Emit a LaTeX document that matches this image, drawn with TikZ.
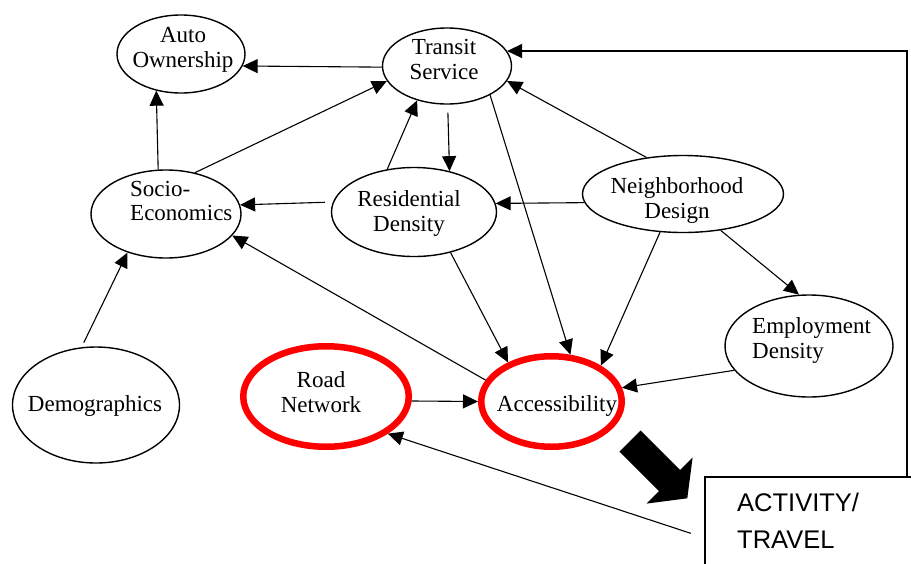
\documentclass[tikz,border=0pt]{standalone}
\usepackage{fontspec}
\setmainfont{Liberation Serif}
\newfontfamily\boxfont{Liberation Sans}
\usetikzlibrary{shapes.geometric,arrows.meta}

\begin{document}
\begin{tikzpicture}[x=1pt,y=-1pt,
  oval/.style={ellipse,draw,line width=1.4pt,inner sep=0pt,outer sep=0.7pt},
  hot/.style={ellipse,draw=red,line width=6.5pt,inner sep=0pt,outer sep=3.25pt},
  lbl/.style={inner sep=0pt,font=\fontsize{23}{25}\selectfont,align=center},
  link/.style={line width=1.1pt,-{Triangle[length=15pt,width=14pt]}},
]
\clip (0,0) rectangle (911,563);
\fill[white] (0,0) rectangle (911,563);

% factor ellipses
\node[oval,minimum width=128pt,minimum height=78pt]  (ao) at (181,54) {};
\node[oval,minimum width=129pt,minimum height=76pt]  (ts) at (447,66) {};
\node[oval,minimum width=150pt,minimum height=88pt]  (se) at (166,214) {};
\node[oval,minimum width=165pt,minimum height=89pt]  (rd) at (414,212) {};
\node[oval,minimum width=201pt,minimum height=77pt]  (nd) at (683,194) {};
\node[oval,minimum width=168pt,minimum height=102pt] (ed) at (809,346) {};
\node[oval,minimum width=167pt,minimum height=116pt] (dg) at (96,405) {};
\node[hot,minimum width=165.5pt,minimum height=100.5pt] (rn) at (326,396.5) {};
\node[hot,minimum width=140.5pt,minimum height=90.5pt]  (ac) at (551.5,401.5) {};

% factor names
\node[lbl] (ao-t) at (183,50.3) {Auto\\Ownership};
\node[lbl] (ts-t) at (444,59) {Transit\\Service};
\node[lbl,font=\fontsize{23}{24}\selectfont,align=left,anchor=west] (se-t) at (130,201) {Socio-\\Economics};
\node[lbl] (rd-t) at (409,213.8) {Residential\\Density};
\node[lbl] (nd-t) at (677,200) {Neighborhood\\Design};
\node[lbl,align=left,anchor=west] (ed-t) at (752,340) {Employment\\Density};
\node[lbl] (rn-t) at (321,391.8) {Road\\Network};
\node[lbl] (ac-t) at (557,406.3) {Accessibility};
\node[lbl] (dg-t) at (95,406.3) {Demographics};

% outcome box, running off the lower right corner
\node[draw,line width=1.5pt,rectangle,minimum width=230pt,minimum height=110pt,
      inner sep=0pt,outer sep=0pt,anchor=north west] (at) at (705,477) {};
\node[anchor=west,inner sep=0pt,align=left,
      font=\boxfont\fontsize{25.5}{36.5}\selectfont] (at-t) at (737,520.8) {ACTIVITY/\\TRAVEL};

% influences
\draw[link] (ts.181) -- (ao.-11);
\draw[link] (se.100) -- (ao.236);
\draw[link] (se.55) -- (ts.194);
\draw[link,shorten <=8pt] (rd.173.6) -- (se.7.7);
\draw[link] (rd.122) -- (ts.229.5);
\draw[link,shorten <=8pt] (ts.271) -- (rd.49.6);
\draw[link] (nd.185) -- (rd.6.4);
\draw[link] (nd.135) -- (ts.-14.7);
\draw[link] (ts.-34) -- (ac.68.8);
\draw[link] (rd.-48) -- (ac.138.4);
\draw[link] (nd.239.5) -- (ac.36);
\draw[link] (nd.-44.3) -- (ed.101.7);
\draw[link] (ed.198.9) -- (ac.11.9);
\draw[link] (rn.-3.5) -- (ac.180.8);
\draw[link] (ac.162) -- (se.-18.4);
\draw[link,shorten <=15pt] ([yshift=-61pt]at.north west) -- (rn.-31.5);
\draw[link,shorten <=5pt] (dg.104) -- (se.225);

% feedback from activity/travel to transit service
\draw[link,line width=1.5pt] ([xshift=202pt]at.north west) |- (ts.14);

% block arrow from accessibility to activity/travel
\fill (619.4,451.6) -- (640.6,430.4) -- (680.2,470) -- (692.6,457.6)
  -- (687.3,498.3) -- (646.6,503.6) -- (659,491.2) -- cycle;
\end{tikzpicture}
\end{document}
